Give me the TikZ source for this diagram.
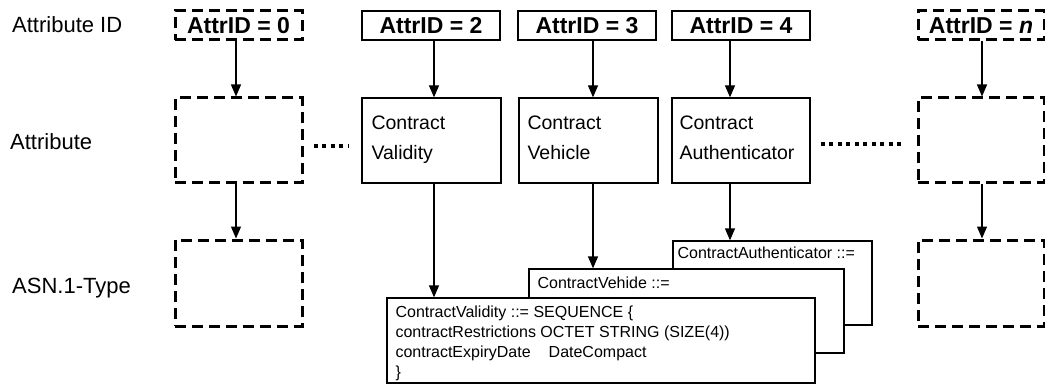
\documentclass[tikz,border=0pt]{standalone}
\usepackage{fontspec}
\setmainfont{Liberation Sans}
\usetikzlibrary{arrows.meta,calc}
\begin{document}
\begin{tikzpicture}[x=1pt,y=-1pt,
  idbox/.style={draw,line width=1.3pt,minimum height=29pt,inner sep=0pt,
    font=\fontsize{23}{26}\selectfont\bfseries},
  thickdash/.style={line width=3pt,dash pattern=on 11pt off 6pt},
  abox/.style={draw,line width=1.3pt,minimum height=85pt,inner sep=0pt},
  asnbox/.style={draw,fill=white,line width=1.3pt,inner sep=0pt},
  lbl/.style={inner sep=0pt,font=\fontsize{22}{26}\selectfont},
  atext/.style={inner sep=0pt,align=left,font=\fontsize{19.5}{30}\selectfont},
  asntext/.style={inner sep=0pt,align=left,font=\fontsize{16}{20}\selectfont},
  arr/.style={line width=1.3pt,-{Triangle[length=12pt,width=10pt]}},
  dotline/.style={line width=4pt,dash pattern=on 4pt off 4.5pt}]
\useasboundingbox (0,0) rectangle (1045,385);

% row labels
\node[lbl,anchor=base west] (l1) at (12,33) {Attribute ID};
\node[lbl,anchor=base west] (l2) at (10,150) {Attribute};
\node[lbl,anchor=base west] (l3) at (12,293) {ASN.1-Type};

% attribute ID boxes
\node[idbox,thickdash,minimum width=127pt] (i0) at (238.5,25.5) {AttrID = 0};
\node[idbox,minimum width=138pt] (i2) at (431,25.5) {AttrID = 2};
\node[idbox,minimum width=138pt] (i3) at (587,25.5) {AttrID = 3};
\node[idbox,minimum width=138pt] (i4) at (741,25.5) {AttrID = 4};
\node[idbox,thickdash,minimum width=126pt] (in) at (981,25.5) {AttrID = \textit{n}};

% attribute boxes
\node[abox,thickdash,minimum width=127pt] (a0) at (238.5,140.5) {};
\node[abox,minimum width=139pt] (a2) at (431.5,140.5) {};
\node[abox,minimum width=139pt] (a3) at (588.5,140.5) {};
\node[abox,minimum width=138pt] (a4) at (741,140.5) {};
\node[abox,thickdash,minimum width=126pt] (an) at (981,140.5) {};

\node[atext,anchor=north west] (a2t) at ([xshift=10pt,yshift=-18.5pt]a2.north west) {Contract\\Validity};
\node[atext,anchor=north west] (a3t) at ([xshift=9pt,yshift=-18.5pt]a3.north west) {Contract\\Vehicle};
\node[atext,anchor=north west] (a4t) at ([xshift=8pt,yshift=-18.5pt]a4.north west) {Contract\\Authenticator};

% ASN.1 type boxes
\node[abox,thickdash,minimum width=127pt,minimum height=86pt] (t0) at (238.5,283) {};
\node[abox,thickdash,minimum width=126pt,minimum height=86pt] (tn) at (981,283) {};

\node[asnbox,minimum width=199pt,minimum height=84pt] (s4) at (772.5,283) {};
\node[asntext,anchor=north west] (s4t) at ([xshift=5pt,yshift=-6pt]s4.north west) {ContractAuthenticator ::=};
\node[asnbox,minimum width=315pt,minimum height=84pt] (s3) at (686.5,311) {};
\node[asntext,anchor=north west] (s3t) at ([xshift=9pt,yshift=-8pt]s3.north west) {ContractVehide ::=};
\node[asnbox,minimum width=428pt,minimum height=85pt] (s2) at (601,340.5) {};
\node[asntext,anchor=north west] (s2t) at ([xshift=9pt,yshift=-8pt]s2.north west)
  {ContractValidity ::= SEQUENCE \{\\
   contractRestrictions OCTET STRING (SIZE(4))\\
   contractExpiryDate\hspace*{18pt}DateCompact\\
   \}};

% arrows
\draw[arr] ([xshift=-2.5pt]i0.south) -- ([xshift=-2.5pt]a0.north);
\draw[arr] ([xshift=-2.5pt]a0.south) -- ([xshift=-2.5pt]t0.north);
\draw[arr] ([xshift=3pt]i2.south) -- ([xshift=2.5pt]a2.north);
\draw[arr] ([xshift=2.5pt]a2.south) -- ([xshift=2.5pt]a2.south |- s2.north);
\draw[arr] ([xshift=6pt]i3.south) -- ([xshift=4.5pt]a3.north);
\draw[arr] ([xshift=4.5pt]a3.south) -- ([xshift=4.5pt]a3.south |- s3.north);
\draw[arr] ([xshift=-11pt]i4.south) -- ([xshift=-11pt]a4.north);
\draw[arr] ([xshift=-11pt]a4.south) -- ([xshift=-11pt]a4.south |- s4.north);
\draw[arr] ([xshift=1pt]in.south) -- ([xshift=1pt]an.north);
\draw[arr] ([xshift=1pt]an.south) -- ([xshift=1pt]tn.north);

% dotted ellipses
\draw[dotline] ([xshift=10pt,yshift=-5.5pt]a0.east) -- ([xshift=-12pt,yshift=-5.5pt]a2.west);
\draw[dotline] ([xshift=10pt,yshift=-3.5pt]a4.east) -- ([xshift=-11pt,yshift=-3.5pt]an.west);
\end{tikzpicture}
\end{document}
